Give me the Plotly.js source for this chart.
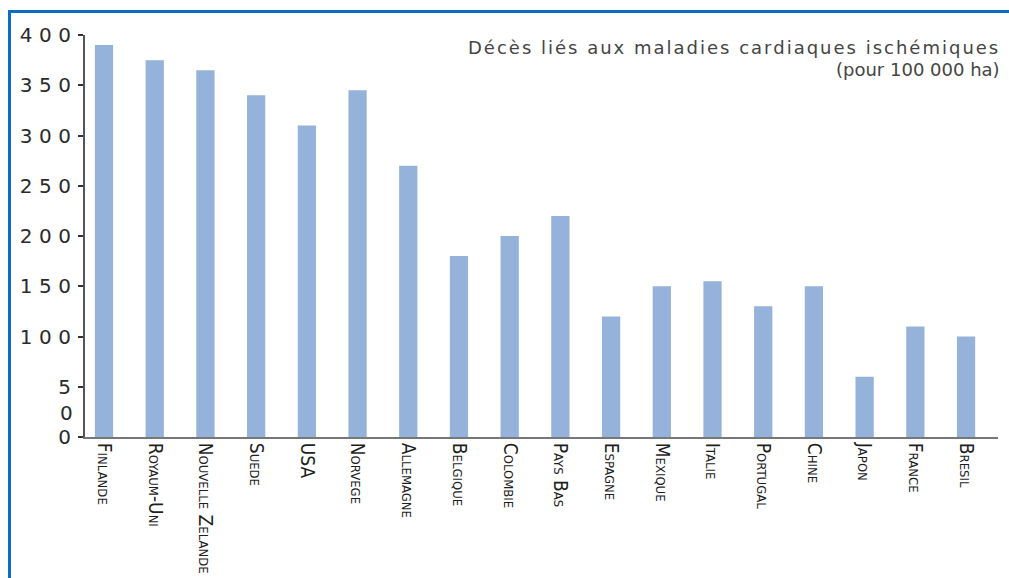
<!DOCTYPE html>
<html>
<head>
<meta charset="utf-8">
<script src="https://cdn.plot.ly/plotly-3.0.1.min.js"></script>
<style>
  html, body { margin: 0; padding: 0; background: #fff; }
  #chart { width: 1009px; height: 578px; }
  #frame { position: absolute; left: 8px; top: 10px; width: 1001px; height: 568px;
           border-left: 3px solid #0a6fc4; border-top: 3px solid #0a6fc4; pointer-events: none; box-sizing: border-box; }
  g.annotation[data-index="0"] text { letter-spacing: 2px; }
</style>
</head>
<body>
<div id="chart"></div>
<div id="frame"></div>
<script>
const countries = ["Finlande", "Royaum-Uni", "Nouvelle Zelande", "Suede", "USA", "Norvege",
  "Allemagne", "Belgique", "Colombie", "Pays Bas", "Espagne", "Mexique", "Italie",
  "Portugal", "Chine", "Japon", "France", "Bresil"];
const deaths = [390, 375, 365, 340, 310, 345, 270, 180, 200, 220, 120, 150, 155, 130, 150, 60, 110, 100];
const yTickVals = [0, 50, 100, 150, 200, 250, 300, 350, 400];
const yTickText = ["0", "5", "1\u20040\u20040", "1\u20045\u20040", "2\u20040\u20040", "2\u20045\u20040", "3\u20040\u20040", "3\u20045\u20040", "4\u20040\u20040"];
const titleLine1 = "Décès liés aux maladies cardiaques ischémiques";
const titleLine2 = "(pour 100 000 ha)";

const trace = {
  type: "bar",
  x: countries,
  y: deaths,
  width: 0.36,
  marker: { color: "#95b3da" },
  hoverinfo: "x+y"
};

const layout = {
  width: 1009, height: 578,
  margin: { l: 85, r: 11, t: 35, b: 141 },
  paper_bgcolor: "#ffffff",
  plot_bgcolor: "#ffffff",
  showlegend: false,
  xaxis: {
    type: "category",
    range: [-0.375, 17.63],
    showline: true, linecolor: "#777", linewidth: 2,
    ticks: "", showgrid: false, zeroline: false,
    tickangle: 90,
    tickfont: { family: "'Liberation Sans Narrow', 'DejaVu Sans Condensed', sans-serif", size: 19, color: "#1e1e1e", variant: "small-caps" }
  },
  yaxis: {
    range: [0, 400],
    tickvals: yTickVals, ticktext: yTickText,
    showline: true, linecolor: "#555", linewidth: 2,
    ticks: "outside", ticklen: 5, tickwidth: 2, tickcolor: "#333",
    ticklabelstandoff: 3,
    showgrid: false, zeroline: false,
    tickfont: { family: "'DejaVu Sans', Verdana, sans-serif", size: 20, color: "#2a2a2a" }
  },
  annotations: [
    {
      xref: "paper", yref: "paper", x: 1, y: 1, xanchor: "right", yanchor: "top",
      xshift: 4, yshift: 0, align: "right", showarrow: false,
      text: titleLine1,
      font: { family: "'DejaVu Sans', Verdana, sans-serif", size: 18, color: "#444" }
    },
    {
      xref: "paper", yref: "paper", x: 1, y: 1, xanchor: "right", yanchor: "top",
      xshift: 4, yshift: -22, align: "right", showarrow: false,
      text: titleLine2,
      font: { family: "'DejaVu Sans', Verdana, sans-serif", size: 18, color: "#444" }
    },
    {
      xref: "paper", yref: "y", x: 0, y: 24, xanchor: "right", yanchor: "middle",
      xshift: -10, showarrow: false, text: "0",
      font: { family: "'DejaVu Sans', Verdana, sans-serif", size: 20, color: "#2a2a2a" }
    }
  ]
};

Plotly.newPlot("chart", [trace], layout, { displayModeBar: false, staticPlot: true });
</script>
</body>
</html>
